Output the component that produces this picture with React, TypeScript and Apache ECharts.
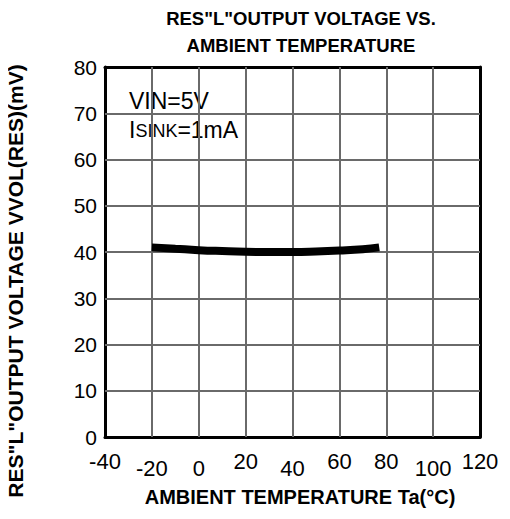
import React, { useEffect, useRef } from "react";
import * as echarts from "echarts";

const temps = [-20, -10, 0, 10, 20, 30, 40, 50, 60, 70, 77];
const vol = [41, 40.7, 40.4, 40.2, 40.05, 40, 40, 40.1, 40.3, 40.6, 41];
const lowLabels = [-20, 0, 40, 100];
const xGrid = [-20, 0, 20, 40, 60, 80, 100];
const yGrid = [10, 20, 30, 40, 50, 60, 70];

export default function App() {
  const ref = useRef<HTMLDivElement>(null);
  useEffect(() => {
    const chart = echarts.init(ref.current!, null, { renderer: "svg" });
    const font = "'Liberation Sans', Arial, sans-serif";
    const grid = { left: 105, right: 30, top: 67, bottom: 82 };
    chart.setOption({
      animation: false,
      grid,
      xAxis: [
        {
          type: "value",
          min: -40,
          max: 120,
          interval: 20,
          axisLine: { show: true, onZero: false, lineStyle: { color: "#000", width: 3 } },
          axisTick: { show: false },
          splitLine: { show: false },
          axisLabel: {
            margin: 13,
            formatter: (v: number) => (lowLabels.includes(v) ? `{lo|${v}}` : `{hi|${v}}`),
            rich: {
              hi: { fontFamily: font, fontSize: 22, color: "#000" },
              lo: { fontFamily: font, fontSize: 22, color: "#000", padding: [7, 0, 0, 0] },
            },
          },
        },
        {
          type: "value",
          position: "top",
          min: -40,
          max: 120,
          interval: 20,
          axisLine: { show: true, onZero: false, lineStyle: { color: "#000", width: 3 } },
          axisTick: { show: false },
          axisLabel: { show: false },
          splitLine: { show: false },
        },
      ],
      yAxis: [
        {
          type: "value",
          min: 0,
          max: 80,
          interval: 10,
          axisLine: { show: true, onZero: false, lineStyle: { color: "#000", width: 3 } },
          axisTick: { show: false },
          splitLine: { show: false },
          axisLabel: { fontFamily: font, fontSize: 21, color: "#000", margin: 8 },
        },
        {
          type: "value",
          position: "right",
          min: 0,
          max: 80,
          interval: 10,
          axisLine: { show: true, onZero: false, lineStyle: { color: "#000", width: 3 } },
          axisTick: { show: false },
          axisLabel: { show: false },
          splitLine: { show: false },
        },
      ],
      graphic: [
        {
          type: "text",
          x: 301,
          y: 5,
          style: {
            text: 'RES"L"OUTPUT VOLTAGE VS.\nAMBIENT TEMPERATURE',
            fontFamily: font,
            fontSize: 18.5,
            fontWeight: "bold",
            fill: "#000",
            align: "center",
            verticalAlign: "top",
            lineHeight: 27,
          },
        },
        {
          type: "text",
          x: 300,
          y: 497,
          style: {
            text: "AMBIENT TEMPERATURE Ta(°C)",
            fontFamily: font,
            fontSize: 20,
            fontWeight: "bold",
            fill: "#000",
            align: "center",
            verticalAlign: "middle",
          },
        },
        {
          type: "text",
          x: 15,
          y: 281,
          rotation: Math.PI / 2,
          style: {
            text: 'RES"L"OUTPUT VOLTAGE VVOL(RES)(mV)',
            fontFamily: font,
            fontSize: 21,
            fontWeight: "bold",
            fill: "#000",
            align: "center",
            verticalAlign: "middle",
          },
        },
        {
          type: "group",
          left: 128,
          top: 80,
          z: 10,
          children: [
            { type: "rect", shape: { x: 0, y: 0, width: 115, height: 70 }, style: { fill: "#fff" } },
            {
              type: "text",
              x: 1,
              y: 9,
              style: { text: "VIN=5V", fontFamily: font, fontSize: 23, fill: "#000" },
            },
            {
              type: "text",
              x: 1,
              y: 38,
              style: {
                text: "{a|I}{b|SINK}{a|=1mA}",
                rich: {
                  a: { fontFamily: font, fontSize: 23, fill: "#000" } as any,
                  b: { fontFamily: font, fontSize: 18, fill: "#000", verticalAlign: "bottom", padding: [0, 0, 1, 0] } as any,
                },
                fontFamily: font,
                fontSize: 23,
                fill: "#000",
              },
            },
          ],
        },
      ],
      series: [
        {
          type: "line",
          data: [],
          z: 1,
          markLine: {
            silent: true,
            symbol: "none",
            label: { show: false },
            lineStyle: { color: "#6a6a6a", width: 2, type: "solid", opacity: 1 },
            data: [...xGrid.map((v) => ({ xAxis: v })), ...yGrid.map((v) => ({ yAxis: v }))],
          },
        },
        {
          type: "line",
          z: 5,
          data: temps.map((t, i) => [t, vol[i]]),
          smooth: true,
          showSymbol: false,
          lineStyle: { color: "#000", width: 8 },
        },
      ],
    });
    return () => chart.dispose();
  }, []);
  return <div ref={ref} style={{ width: 510, height: 519, margin: -8 }} />;
}
